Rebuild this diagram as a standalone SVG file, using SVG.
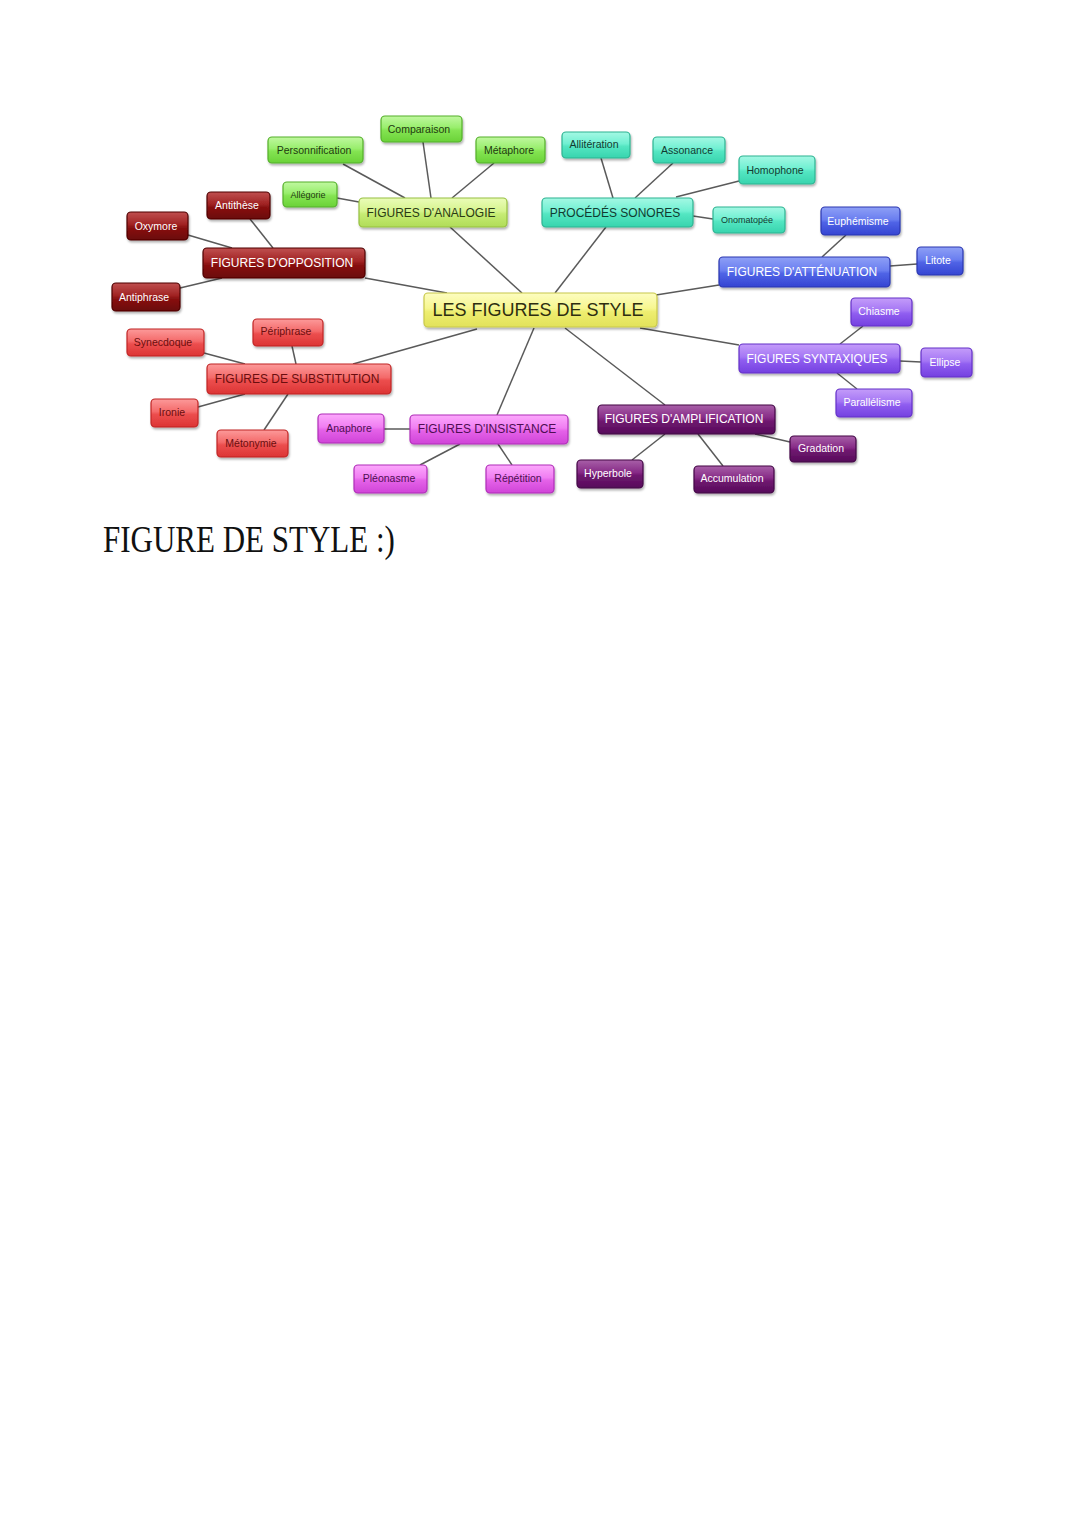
<svg xmlns="http://www.w3.org/2000/svg" width="1080" height="1527" viewBox="0 0 1080 1527">
<defs>
<filter id="sh" x="-20%" y="-30%" width="140%" height="170%">
<feDropShadow dx="1" dy="2" stdDeviation="1.3" flood-color="#000" flood-opacity="0.3"/>
</filter>
<linearGradient id="g-yellow" x1="0" y1="0" x2="0" y2="1"><stop offset="0" stop-color="#fdfdc0"/><stop offset="0.45" stop-color="#f6f690"/><stop offset="0.55" stop-color="#eeee70"/><stop offset="1" stop-color="#e2e25a"/></linearGradient>
<linearGradient id="g-lgreen" x1="0" y1="0" x2="0" y2="1"><stop offset="0" stop-color="#eafcb8"/><stop offset="0.45" stop-color="#d6f48e"/><stop offset="0.55" stop-color="#c6ec74"/><stop offset="1" stop-color="#b0dc58"/></linearGradient>
<linearGradient id="g-green" x1="0" y1="0" x2="0" y2="1"><stop offset="0" stop-color="#c0f8a0"/><stop offset="0.45" stop-color="#98ee6c"/><stop offset="0.55" stop-color="#84e452"/><stop offset="1" stop-color="#6ad238"/></linearGradient>
<linearGradient id="g-teal" x1="0" y1="0" x2="0" y2="1"><stop offset="0" stop-color="#a4f8e4"/><stop offset="0.45" stop-color="#70f0d2"/><stop offset="0.55" stop-color="#54e6c2"/><stop offset="1" stop-color="#38d4ae"/></linearGradient>
<linearGradient id="g-blue" x1="0" y1="0" x2="0" y2="1"><stop offset="0" stop-color="#8ea0f6"/><stop offset="0.45" stop-color="#6a7ef0"/><stop offset="0.55" stop-color="#5064e6"/><stop offset="1" stop-color="#3444d2"/></linearGradient>
<linearGradient id="g-violet" x1="0" y1="0" x2="0" y2="1"><stop offset="0" stop-color="#c49cfa"/><stop offset="0.45" stop-color="#a476f4"/><stop offset="0.55" stop-color="#905ef0"/><stop offset="1" stop-color="#7440e0"/></linearGradient>
<linearGradient id="g-dpurple" x1="0" y1="0" x2="0" y2="1"><stop offset="0" stop-color="#a860a8"/><stop offset="0.45" stop-color="#862a86"/><stop offset="0.55" stop-color="#701870"/><stop offset="1" stop-color="#560a5a"/></linearGradient>
<linearGradient id="g-magenta" x1="0" y1="0" x2="0" y2="1"><stop offset="0" stop-color="#fca8fc"/><stop offset="0.45" stop-color="#f07ef2"/><stop offset="0.55" stop-color="#e462e8"/><stop offset="1" stop-color="#d044d8"/></linearGradient>
<linearGradient id="g-red" x1="0" y1="0" x2="0" y2="1"><stop offset="0" stop-color="#fc9a9a"/><stop offset="0.45" stop-color="#f46a6a"/><stop offset="0.55" stop-color="#ec4e4e"/><stop offset="1" stop-color="#dc3434"/></linearGradient>
<linearGradient id="g-dred" x1="0" y1="0" x2="0" y2="1"><stop offset="0" stop-color="#c05050"/><stop offset="0.45" stop-color="#a02222"/><stop offset="0.55" stop-color="#8a1212"/><stop offset="1" stop-color="#6a0606"/></linearGradient>
</defs>
<style>
rect{rx:4px;ry:4px;filter:url(#sh);stroke-width:1.2}
text{font-family:"Liberation Sans",Arial,sans-serif;text-anchor:middle}
.leaf{font-size:10.5px}
.small{font-size:9px}
.main{font-size:12px}
.yellow rect{fill:url(#g-yellow);stroke:#c8c84a}
.yellow text{fill:#2e2e10;font-size:18px}
.lgreen rect{fill:url(#g-lgreen);stroke:#96c040}
.lgreen text{fill:#2a3a14}
.green rect{fill:url(#g-green);stroke:#54b02a}
.green text{fill:#1e3a10}
.teal rect{fill:url(#g-teal);stroke:#2cb492}
.teal text{fill:#123a30}
.blue rect{fill:url(#g-blue);stroke:#2a36b0}
.blue text{fill:#ffffff}
.violet rect{fill:url(#g-violet);stroke:#6430c8}
.violet text{fill:#ffffff}
.dpurple rect{fill:url(#g-dpurple);stroke:#420644}
.dpurple text{fill:#ffffff}
.magenta rect{fill:url(#g-magenta);stroke:#b02eb8}
.magenta text{fill:#4e0e52}
.red rect{fill:url(#g-red);stroke:#c02424}
.red text{fill:#6a0e0e}
.dred rect{fill:url(#g-dred);stroke:#4e0202}
.dred text{fill:#ffffff}
#connectors line{stroke:#5a5a5a;stroke-width:1.5}
</style>
<rect x="0" y="0" width="1080" height="1527" fill="#ffffff" style="filter:none;stroke:none;rx:0"/>
<g id="connectors">
<line x1="365" y1="278" x2="447" y2="293"/>
<line x1="450" y1="227" x2="522" y2="293"/>
<line x1="606" y1="227" x2="555" y2="293"/>
<line x1="719" y1="285" x2="656" y2="295"/>
<line x1="640" y1="328" x2="739" y2="345"/>
<line x1="565" y1="328" x2="665" y2="405"/>
<line x1="534" y1="328" x2="497" y2="415"/>
<line x1="477" y1="329" x2="353" y2="364"/>
<line x1="188" y1="235" x2="232" y2="248"/>
<line x1="250" y1="219" x2="273" y2="248"/>
<line x1="180" y1="288" x2="222" y2="278"/>
<line x1="343" y1="164" x2="405" y2="198"/>
<line x1="337" y1="198" x2="359" y2="202"/>
<line x1="423" y1="142" x2="431" y2="198"/>
<line x1="494" y1="163" x2="452" y2="198"/>
<line x1="601" y1="158" x2="613" y2="198"/>
<line x1="673" y1="163" x2="635" y2="198"/>
<line x1="739" y1="181" x2="676" y2="197"/>
<line x1="693" y1="216" x2="713" y2="219"/>
<line x1="846" y1="235" x2="822" y2="257"/>
<line x1="890" y1="266" x2="917" y2="264"/>
<line x1="863" y1="326" x2="840" y2="344"/>
<line x1="900" y1="361" x2="921" y2="362"/>
<line x1="837" y1="373" x2="857" y2="389"/>
<line x1="665" y1="434" x2="632" y2="460"/>
<line x1="698" y1="434" x2="723" y2="466"/>
<line x1="755" y1="434" x2="790" y2="442"/>
<line x1="384" y1="429" x2="410" y2="429"/>
<line x1="420" y1="465" x2="460" y2="444"/>
<line x1="512" y1="465" x2="498" y2="444"/>
<line x1="204" y1="353" x2="245" y2="364"/>
<line x1="292" y1="346" x2="296" y2="364"/>
<line x1="198" y1="407" x2="245" y2="394"/>
<line x1="264" y1="430" x2="288" y2="394"/>
</g>
<g id="center" class="yellow"><rect x="424" y="293" width="233" height="34"/><text x="538" y="316">LES FIGURES DE STYLE</text></g>
<g id="opposition" class="dred"><rect x="203" y="248" width="162" height="30"/><text class="main" x="282" y="267.2">FIGURES D'OPPOSITION</text></g>
<g id="antithese" class="dred"><rect x="207" y="192" width="63" height="27"/><text class="leaf" x="237" y="209.2">Antithèse</text></g>
<g id="oxymore" class="dred"><rect x="127" y="212" width="61" height="28"/><text class="leaf" x="156" y="229.7">Oxymore</text></g>
<g id="antiphrase" class="dred"><rect x="112" y="283" width="68" height="28"/><text class="leaf" x="144" y="300.7">Antiphrase</text></g>
<g id="analogie" class="lgreen"><rect x="359" y="198" width="148" height="29"/><text class="main" x="431" y="216.7">FIGURES D'ANALOGIE</text></g>
<g id="personnification" class="green"><rect x="268" y="137" width="95" height="26"/><text class="leaf" x="314" y="153.7">Personnification</text></g>
<g id="allegorie" class="green"><rect x="283" y="182" width="54" height="25"/><text class="small" x="308" y="197.7">Allégorie</text></g>
<g id="comparaison" class="green"><rect x="381" y="116" width="81" height="26"/><text class="leaf" x="419" y="132.7">Comparaison</text></g>
<g id="metaphore" class="green"><rect x="476" y="137" width="69" height="26"/><text class="leaf" x="509" y="153.7">Métaphore</text></g>
<g id="sonores" class="teal"><rect x="542" y="198" width="151" height="29"/><text class="main" x="615" y="216.7">PROCÉDÉS SONORES</text></g>
<g id="alliteration" class="teal"><rect x="562" y="132" width="68" height="26"/><text class="leaf" x="594" y="147.7">Allitération</text></g>
<g id="assonance" class="teal"><rect x="653" y="137" width="72" height="26"/><text class="leaf" x="687" y="153.7">Assonance</text></g>
<g id="homophone" class="teal"><rect x="739" y="156" width="76" height="28"/><text class="leaf" x="775" y="173.7">Homophone</text></g>
<g id="onomatopee" class="teal"><rect x="713" y="207" width="72" height="26"/><text class="small" x="747" y="223.2">Onomatopée</text></g>
<g id="attenuation" class="blue"><rect x="719" y="257" width="171" height="30"/><text class="main" x="802" y="276.2">FIGURES D'ATTÉNUATION</text></g>
<g id="euphemisme" class="blue"><rect x="821" y="207" width="79" height="28"/><text class="leaf" x="858" y="224.7">Euphémisme</text></g>
<g id="litote" class="blue"><rect x="917" y="247" width="46" height="28"/><text class="leaf" x="938" y="263.7">Litote</text></g>
<g id="syntaxiques" class="violet"><rect x="739" y="344" width="161" height="29"/><text class="main" x="817" y="362.7">FIGURES SYNTAXIQUES</text></g>
<g id="chiasme" class="violet"><rect x="851" y="298" width="61" height="28"/><text class="leaf" x="879" y="314.7">Chiasme</text></g>
<g id="ellipse" class="violet"><rect x="921" y="348" width="51" height="29"/><text class="leaf" x="945" y="366.2">Ellipse</text></g>
<g id="parallelisme" class="violet"><rect x="836" y="389" width="76" height="28"/><text class="leaf" x="872" y="405.7">Parallélisme</text></g>
<g id="amplification" class="dpurple"><rect x="598" y="405" width="177" height="29"/><text class="main" x="684" y="422.7">FIGURES D'AMPLIFICATION</text></g>
<g id="hyperbole" class="dpurple"><rect x="577" y="460" width="66" height="28"/><text class="leaf" x="608" y="476.7">Hyperbole</text></g>
<g id="accumulation" class="dpurple"><rect x="694" y="466" width="80" height="27"/><text class="leaf" x="732" y="482.2">Accumulation</text></g>
<g id="gradation" class="dpurple"><rect x="790" y="436" width="66" height="26"/><text class="leaf" x="821" y="452.2">Gradation</text></g>
<g id="insistance" class="magenta"><rect x="410" y="415" width="158" height="29"/><text class="main" x="487" y="432.7">FIGURES D'INSISTANCE</text></g>
<g id="anaphore" class="magenta"><rect x="318" y="414" width="66" height="29"/><text class="leaf" x="349" y="431.7">Anaphore</text></g>
<g id="pleonasme" class="magenta"><rect x="354" y="465" width="73" height="28"/><text class="leaf" x="389" y="482.2">Pléonasme</text></g>
<g id="repetition" class="magenta"><rect x="486" y="465" width="68" height="28"/><text class="leaf" x="518" y="482.2">Répétition</text></g>
<g id="substitution" class="red"><rect x="207" y="364" width="184" height="30"/><text class="main" x="297" y="382.7">FIGURES DE SUBSTITUTION</text></g>
<g id="synecdoque" class="red"><rect x="127" y="329" width="77" height="27"/><text class="leaf" x="163" y="345.7">Synecdoque</text></g>
<g id="periphrase" class="red"><rect x="253" y="319" width="70" height="27"/><text class="leaf" x="286" y="335.2">Périphrase</text></g>
<g id="ironie" class="red"><rect x="151" y="399" width="47" height="28"/><text class="leaf" x="172" y="416.2">Ironie</text></g>
<g id="metonymie" class="red"><rect x="217" y="430" width="71" height="27"/><text class="leaf" x="251" y="446.7">Métonymie</text></g>
<text transform="translate(103,552) scale(1,1.2)" x="0" y="0" style="font-family:'Liberation Serif','Times New Roman',serif;font-size:31px;text-anchor:start;fill:#111">FIGURE DE STYLE :)</text>
</svg>
